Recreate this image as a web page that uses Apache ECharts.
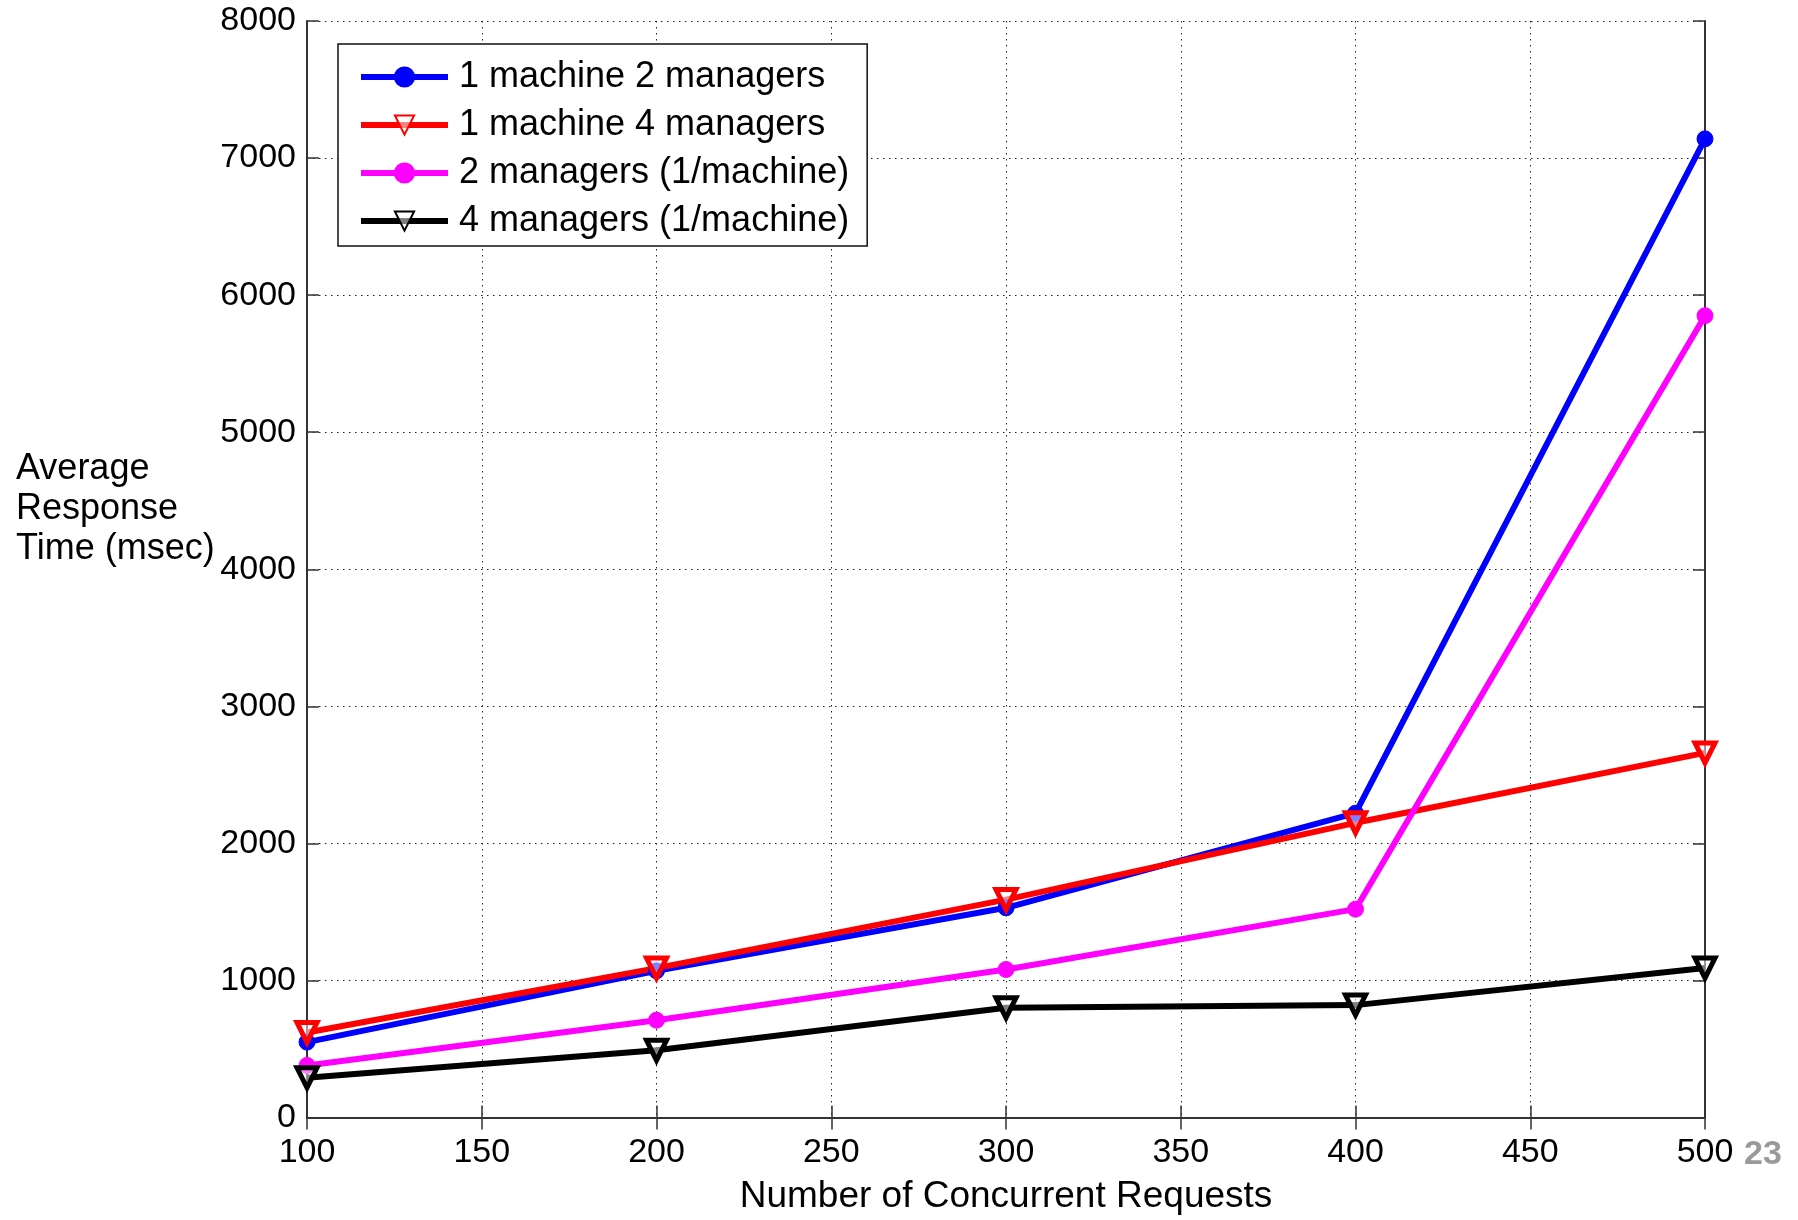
<!DOCTYPE html>
<html>
<head>
<meta charset="utf-8">
<script src="https://cdn.jsdelivr.net/npm/echarts@6/dist/echarts.min.js"></script>
<style>
html,body{margin:0;padding:0;background:#fff;}
#chart{width:1798px;height:1220px;}
</style>
</head>
<body>
<div id="chart"></div>
<script>
const xValues = [100, 200, 300, 400, 500];
const seriesNames = ['1 machine 2 managers', '1 machine 4 managers', '2 managers (1/machine)', '4 managers (1/machine)'];
const oneMachine2Managers = [550, 1070, 1530, 2220, 7140];
const oneMachine4Managers = [620, 1090, 1590, 2150, 2660];
const twoManagersPerMachine = [380, 710, 1080, 1520, 5850];
const fourManagersPerMachine = [290, 490, 800, 820, 1090];
const xAxisName = 'Number of Concurrent Requests';
const yAxisName = 'Average\nResponse\nTime (msec)';
const pageNumber = '23';

const pair = vals => vals.map((v, i) => [xValues[i], v]);
const tickFont = '"Liberation Sans", Arial, sans-serif';
const textFont = '"Liberation Sans", Arial, sans-serif';

function lineSeries(name, vals, color, symbol) {
  const tri = symbol === 'triangle';
  return {
    name: name,
    type: 'line',
    data: pair(vals),
    xAxisIndex: 0,
    yAxisIndex: 0,
    symbol: symbol,
    symbolSize: tri ? 20 : 16,
    symbolRotate: tri ? 180 : 0,
    showAllSymbol: true,
    lineStyle: { color: color, width: 6 },
    itemStyle: tri ? { color: 'rgba(255,255,255,0.5)', borderColor: color, borderWidth: 5 } : { color: color, borderColor: color, borderWidth: 1 },
    emphasis: { disabled: true },
    animation: false,
    z: 3
  };
}

const chart = echarts.init(document.getElementById('chart'));
const axisLine = { show: true, lineStyle: { color: '#333', width: 2 } };
const tickStyle = { show: true, inside: true, length: 12, lineStyle: { color: '#333', width: 1.5 } };
chart.setOption({
  backgroundColor: '#ffffff',
  animation: false,
  grid: { left: 307, right: 93, top: 21, bottom: 99 },
  legend: {
    orient: 'vertical',
    left: 338,
    top: 44,
    padding: [13, 18, 5, 20],
    itemGap: 8,
    itemWidth: 87,
    itemHeight: 24,
    borderColor: '#111',
    borderWidth: 1.5,
    backgroundColor: '#ffffff',
    lineStyle: { width: 6 },
    textStyle: { fontFamily: textFont, fontSize: 36, color: '#000', lineHeight: 40, padding: [0, 0, 0, 6] },
    data: seriesNames
  },
  xAxis: [
    {
      type: 'value', min: 100, max: 500, interval: 50, position: 'bottom',
      name: xAxisName, nameLocation: 'middle', nameGap: 79,
      nameTextStyle: { fontFamily: textFont, fontSize: 37, color: '#000', verticalAlign: 'middle' },
      axisLine: axisLine, axisTick: tickStyle,
      axisLabel: { fontFamily: tickFont, fontSize: 34, color: '#000', margin: 18 },
      splitLine: { show: true, lineStyle: { color: '#222', width: 1, type: [1.5, 4.5] } }
    },
    {
      type: 'value', min: 100, max: 500, interval: 50, position: 'top',
      axisLine: axisLine, axisTick: tickStyle,
      axisLabel: { show: false }, splitLine: { show: false }
    }
  ],
  yAxis: [
    {
      type: 'value', min: 0, max: 8000, interval: 1000, position: 'left',
      axisLine: axisLine, axisTick: tickStyle,
      axisLabel: { fontFamily: tickFont, fontSize: 34, color: '#000', margin: 11, formatter: v => String(v) },
      splitLine: { show: true, lineStyle: { color: '#222', width: 1, type: [1.5, 4.5] } }
    },
    {
      type: 'value', min: 0, max: 8000, interval: 1000, position: 'right',
      axisLine: axisLine, axisTick: tickStyle,
      axisLabel: { show: false }, splitLine: { show: false }
    }
  ],
  graphic: [
    {
      type: 'text', left: 16, top: 449,
      style: { text: yAxisName, fontFamily: textFont, fontSize: 36, lineHeight: 40, fill: '#000', align: 'left' }
    },
    {
      type: 'text', left: 1744, top: 1138,
      style: { text: pageNumber, fontFamily: textFont, fontSize: 34, fontWeight: 'bold', fill: '#9a9a9a' }
    }
  ],
  series: [
    lineSeries(seriesNames[0], oneMachine2Managers, '#0000ff', 'circle'),
    lineSeries(seriesNames[1], oneMachine4Managers, '#ff0000', 'triangle'),
    lineSeries(seriesNames[2], twoManagersPerMachine, '#ff00ff', 'circle'),
    lineSeries(seriesNames[3], fourManagersPerMachine, '#000000', 'triangle')
  ]
});
</script>
</body>
</html>
